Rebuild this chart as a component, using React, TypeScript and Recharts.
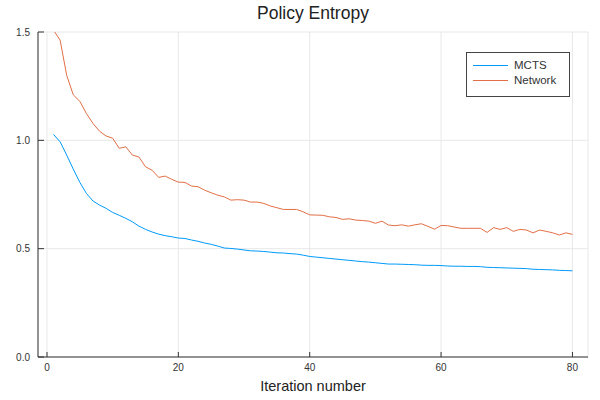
import React from 'react';
import { LineChart, Line, XAxis, YAxis, CartesianGrid, Legend } from 'recharts';

const iterations = Array.from({ length: 80 }, (_, i) => i + 1);

const mcts = [
  1.027, 0.993, 0.932, 0.867, 0.806, 0.755, 0.72, 0.701, 0.686, 0.667,
  0.654, 0.64, 0.624, 0.604, 0.589, 0.577, 0.567, 0.56, 0.555, 0.549,
  0.547, 0.54, 0.534, 0.526, 0.52, 0.512, 0.503, 0.501, 0.498, 0.494,
  0.49, 0.489, 0.487, 0.484, 0.481, 0.48, 0.477, 0.475, 0.47, 0.464,
  0.461, 0.458, 0.455, 0.452, 0.449, 0.446, 0.443, 0.44, 0.438, 0.435,
  0.432, 0.429, 0.429, 0.428, 0.427, 0.426, 0.424, 0.423, 0.423, 0.422,
  0.42, 0.419, 0.419, 0.418, 0.418, 0.417, 0.414, 0.413, 0.412, 0.411,
  0.41, 0.409, 0.408, 0.405, 0.404, 0.403, 0.402, 0.4, 0.399, 0.398,
];

const network = [
  1.508, 1.462, 1.3, 1.21, 1.18, 1.124, 1.078, 1.042, 1.02, 1.01,
  0.963, 0.97, 0.932, 0.923, 0.878, 0.862, 0.829, 0.835, 0.82, 0.807,
  0.806, 0.789, 0.786, 0.77, 0.758, 0.747, 0.739, 0.724, 0.726, 0.724,
  0.715, 0.715, 0.709, 0.697, 0.689, 0.681, 0.681, 0.681, 0.67, 0.656,
  0.655, 0.654, 0.647, 0.644, 0.635, 0.638, 0.632, 0.63, 0.627, 0.617,
  0.627, 0.609, 0.606, 0.61, 0.604, 0.61, 0.615, 0.603, 0.59, 0.607,
  0.606, 0.6, 0.594, 0.594, 0.594, 0.594, 0.575, 0.597, 0.589, 0.597,
  0.58, 0.589, 0.586, 0.573, 0.586, 0.58, 0.573, 0.563, 0.573, 0.566,
];

const xTicks = [0, 20, 40, 60, 80];
const yTicks = [0, 0.5, 1.0, 1.5];

const data = iterations.map((it, i) => ({ it, mcts: mcts[i], network: network[i] }));

const FONT = '"Liberation Sans", Arial, sans-serif';
const AXIS = '#333333';
const TEXT = '#333333';

// Plots.jl-style ticks: mark drawn inward, label outside
const XTick = (props: any) => {
  const { x, y, payload } = props;
  return (
    <g>
      <line x1={x} y1={y} x2={x} y2={y - 5} stroke={AXIS} strokeWidth={1} />
      <text x={x} y={y + 14} textAnchor="middle" fontSize={10} fill={TEXT} fontFamily={FONT}>
        {payload.value}
      </text>
    </g>
  );
};

const YTick = (props: any) => {
  const { x, y, payload } = props;
  return (
    <g>
      <line x1={x} y1={y} x2={x + 6} y2={y} stroke={AXIS} strokeWidth={1} />
      <text x={x - 8} y={y + 3.5} textAnchor="end" fontSize={10} fill={TEXT} fontFamily={FONT}>
        {Number(payload.value).toFixed(1)}
      </text>
    </g>
  );
};

const LegendBox = (props: any) => {
  const { payload } = props;
  return (
    <div
      style={{
        width: 104,
        height: 45,
        boxSizing: 'border-box',
        border: '1px solid #444',
        background: '#fff',
        paddingTop: 5,
      }}
    >
      {(payload || []).map((entry: any) => (
        <div key={entry.value} style={{ display: 'flex', alignItems: 'center', height: 15 }}>
          <span style={{ display: 'inline-block', width: 35, height: 1, background: entry.color, marginLeft: 6, marginRight: 6 }} />
          <span style={{ fontSize: 11.5, fontFamily: FONT, color: TEXT, lineHeight: '15px' }}>{entry.value}</span>
        </div>
      ))}
    </div>
  );
};

export default function App() {
  return (
    <div style={{ position: 'absolute', left: 0, top: 0, width: 600, height: 400, background: '#fff' }}>
      <div
        style={{
          position: 'absolute',
          left: 38,
          top: 2,
          width: 550,
          textAlign: 'center',
          fontFamily: FONT,
          fontSize: 17.5,
          lineHeight: '22px',
          color: '#222',
        }}
      >
        Policy Entropy
      </div>
      <LineChart width={600} height={400} data={data} margin={{ top: 32, right: 12, bottom: 0, left: 8 }}>
        <CartesianGrid stroke="#e8e8e8" strokeWidth={1} />
        <XAxis
          dataKey="it"
          type="number"
          domain={[-1.37, 82.37]}
          ticks={xTicks}
          allowDataOverflow
          height={43}
          stroke={AXIS}
          tickSize={0}
          tickMargin={0}
          tick={<XTick />}
          label={{ value: 'Iteration number', position: 'insideBottom', offset: 9, fontSize: 14.5, fill: '#222', fontFamily: FONT }}
        />
        <YAxis
          type="number"
          domain={[0, 1.5]}
          ticks={yTicks}
          allowDataOverflow
          width={30}
          stroke={AXIS}
          tickSize={0}
          tickMargin={0}
          tick={<YTick />}
        />
        <Legend
          layout="vertical"
          align="center"
          verticalAlign="middle"
          wrapperStyle={{ position: 'absolute', left: 466, top: 52, width: 104 }}
          content={<LegendBox />}
        />
        <Line dataKey="mcts" name="MCTS" stroke="#009AFA" strokeWidth={1} dot={false} isAnimationActive={false} />
        <Line dataKey="network" name="Network" stroke="#E26F46" strokeWidth={1} dot={false} isAnimationActive={false} />
      </LineChart>
    </div>
  );
}
